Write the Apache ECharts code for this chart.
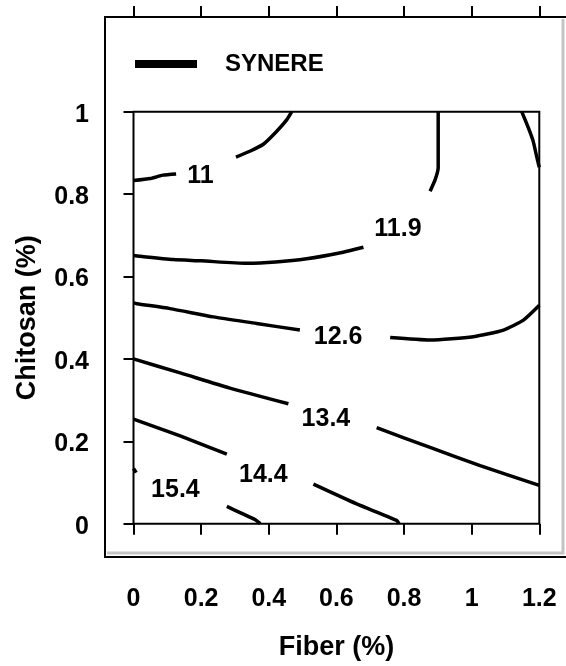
<!DOCTYPE html>
<html>
    <head>
        <meta charset="utf-8">
        <script src="https://cdn.jsdelivr.net/npm/echarts@6/dist/echarts.min.js"></script>
        <style>
            body { margin: 0; background: #fff; }
        </style>
    </head>
    <body>
        <div id="main" style="width: 566px;height:666px;"></div>
        <script type="text/javascript">
            // tick labels come from these
            var xTicks = [0, 0.2, 0.4, 0.6, 0.8, 1, 1.2];
            var yTicks = [0, 0.2, 0.4, 0.6, 0.8, 1];

            // contour lines as [fiber, chitosan]
            var c11a = [[0, 0.833], [0.05, 0.838], [0.087, 0.846], [0.126, 0.849]];
            var c11b = [[0.303, 0.890], [0.344, 0.904], [0.384, 0.921], [0.423, 0.952], [0.453, 0.980], [0.468, 1]];
            var c119a = [[0, 0.651], [0.03, 0.648], [0.118, 0.641], [0.2, 0.638], [0.335, 0.632], [0.42, 0.635], [0.512, 0.643], [0.62, 0.659], [0.68, 0.671]];
            var c119b = [[0.877, 0.807], [0.892, 0.835], [0.901, 0.864], [0.901, 0.93], [0.901, 1]];
            var cCorner = [[1.148, 1], [1.168, 0.96], [1.182, 0.928], [1.192, 0.892], [1.2, 0.865]];
            var c126a = [[0, 0.536], [0.01, 0.534], [0.108, 0.522], [0.236, 0.502], [0.364, 0.486], [0.492, 0.470]];
            var c126b = [[0.759, 0.452], [0.877, 0.446], [1.005, 0.454], [1.094, 0.470], [1.153, 0.494], [1.2, 0.53]];
            var c134a = [[0, 0.40], [0.138, 0.366], [0.285, 0.329], [0.458, 0.291]];
            var c134b = [[0.719, 0.233], [0.877, 0.185], [1.025, 0.141], [1.2, 0.093]];
            var c144a = [[0, 0.254], [0.138, 0.213], [0.276, 0.169]];
            var c144b = [[0.532, 0.096], [0.66, 0.048], [0.778, 0.008], [0.785, 0]];
            var c154a = [[0, 0.134], [0.008, 0.124]];
            var c154b = [[0.276, 0.042], [0.32, 0.025], [0.359, 0.01], [0.375, 0]];

            // contour labels
            var labelX = [0.198, 0.782, 0.605, 0.569, 0.384, 0.124];
            var labelY = [0.850, 0.723, 0.459, 0.262, 0.125, 0.088];
            var labelText = ['11', '11.9', '12.6', '13.4', '14.4', '15.4'];

            var font = 'Liberation Sans';
            var lines = [c11a, c11b, c119a, c119b, cCorner, c126a, c126b, c134a, c134b, c144a, c144b, c154a, c154b];

            var series = lines.map(function (d) {
                return {
                    name: 'SYNERE',
                    type: 'line',
                    data: d,
                    showSymbol: false,
                    smooth: 0.2,
                    itemStyle: { color: '#000' },
                    lineStyle: { color: '#000', width: 3.5 }
                };
            });
            series.push({
                name: 'labels',
                type: 'scatter',
                symbolSize: 1,
                itemStyle: { color: 'rgba(0,0,0,0)', opacity: 1 },
                data: labelX.map(function (x, i) { return [x, labelY[i], labelText[i]]; }),
                label: {
                    show: true,
                    position: 'inside',
                    offset: [0, 3],
                    formatter: function (p) { return p.value[2]; },
                    fontFamily: font, fontWeight: 'bold', fontSize: 25, color: '#000'
                }
            });

            var myChart = echarts.init(document.getElementById('main'));
            var option = {
                animation: false,
                backgroundColor: '#fff',
                grid: {
                    left: 133.5, right: 26.7, top: 111.7, bottom: 139.3,
                    show: true, borderColor: '#000', borderWidth: 2
                },
                legend: {
                    data: ['SYNERE'],
                    left: 135, top: 52, padding: 0,
                    icon: 'rect', itemWidth: 62, itemHeight: 8,
                    textStyle: { fontFamily: font, fontWeight: 'bold', fontSize: 24, color: '#000', padding: [0, 0, 0, 23] }
                },
                graphic: [
                    { type: 'polyline', shape: { points: [[107, 553], [563, 553], [563, 19]] }, style: { stroke: '#c4c4c4', lineWidth: 3, fill: null } },
                    { type: 'rect', shape: { x: 105, y: 17, width: 480, height: 540 }, style: { stroke: '#000', lineWidth: 2, fill: null } }
                ],
                xAxis: [{
                    type: 'value', position: 'bottom', offset: 30.3,
                    min: xTicks[0], max: xTicks[xTicks.length - 1], interval: 0.2,
                    splitLine: { show: false },
                    axisLine: { show: false },
                    axisTick: { show: true, length: 11, lineStyle: { color: '#000', width: 2 } },
                    axisLabel: { margin: 33, fontFamily: font, fontWeight: 'bold', fontSize: 25, color: '#000' },
                    name: 'Fiber (%)', nameLocation: 'middle', nameGap: 80,
                    nameTextStyle: { fontFamily: font, fontWeight: 'bold', fontSize: 27, color: '#000' }
                }, {
                    type: 'value', position: 'top', offset: 94.7,
                    min: xTicks[0], max: xTicks[xTicks.length - 1], interval: 0.2,
                    splitLine: { show: false },
                    axisLine: { show: false },
                    axisTick: { show: true, length: 11, lineStyle: { color: '#000', width: 2 } },
                    axisLabel: { show: false }
                }],
                yAxis: {
                    type: 'value', offset: 28.5,
                    min: yTicks[0], max: yTicks[yTicks.length - 1], interval: 0.2,
                    splitLine: { show: false },
                    axisLine: { show: false },
                    axisTick: { show: true, length: 10, lineStyle: { color: '#000', width: 2 } },
                    axisLabel: {
                        margin: 16,
                        formatter: function (v) { return '{v|' + v + '}'; },
                        rich: { v: { padding: [6, 0, 0, 0], fontFamily: font, fontWeight: 'bold', fontSize: 25, color: '#000' } }
                    },
                    name: 'Chitosan (%)', nameLocation: 'middle', nameGap: 64,
                    nameTextStyle: { fontFamily: font, fontWeight: 'bold', fontSize: 27, color: '#000' }
                },
                series: series
            };
            myChart.setOption(option);
        </script>
    </body>
</html>
